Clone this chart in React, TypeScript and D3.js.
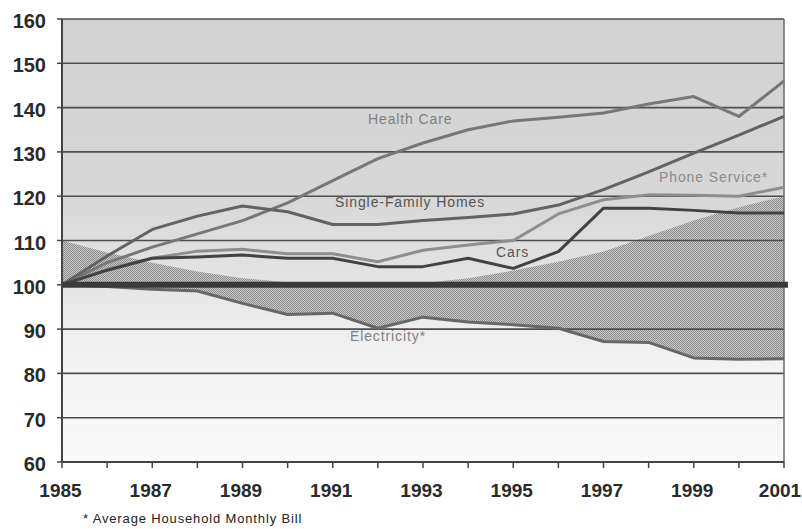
import { useEffect, useRef } from 'react';
import * as d3 from 'd3';

// Index values (1985 = 100)
const years = [1985, 1986, 1987, 1988, 1989, 1990, 1991, 1992, 1993, 1994, 1995, 1996, 1997, 1998, 1999, 2000, 2001];
const healthCare = [100, 105, 108.5, 111.5, 114.5, 118.5, 123.5, 128.5, 132, 135, 137, 137.8, 138.8, 140.8, 142.5, 138, 146];
const singleFamily = [100, 106.5, 112.5, 115.5, 117.8, 116.5, 113.6, 113.6, 114.5, 115.2, 116, 118, 121.5, 125.5, 129.7, 133.8, 138];
const phoneService = [100, 103.5, 106, 107.6, 108, 107, 107, 105.2, 107.8, 109, 110, 116, 119.2, 120.3, 120.2, 120, 122];
const cars = [100, 103.3, 106, 106.3, 106.7, 106, 106, 104.1, 104.1, 106, 103.7, 107.5, 117.3, 117.3, 116.8, 116.2, 116.2];
const electricity = [100, 99.6, 99, 98.6, 95.8, 93.3, 93.6, 90.2, 92.7, 91.6, 91, 90.2, 87.2, 87, 83.5, 83.2, 83.3];
// upper edge of the hatched band (lower edge is electricity)
const bandTop = [110, 107.3, 105, 103, 101.5, 100.6, 100.3, 100.2, 100.4, 101.5, 103.2, 105.2, 107.5, 111, 114.5, 117.5, 120];

const yTicks = [60, 70, 80, 90, 100, 110, 120, 130, 140, 150, 160];
const xLabels = [1985, 1987, 1989, 1991, 1993, 1995, 1997, 1999, 2001];

const seriesNames = ['Health Care', 'Single-Family Homes', 'Phone Service*', 'Cars', 'Electricity*'];
const seriesValues = [healthCare, singleFamily, phoneService, cars, electricity];
const seriesColors = ['#777777', '#626262', '#8e8e8e', '#424242', '#676767'];
// label anchor in data units (year, value)
const labelYears = [1991.78, 1991.05, 1998.23, 1994.62, 1991.38];
const labelValues = [136.2, 117.6, 123.2, 106.3, 87.3];
const labelColors = ['#808080', '#555555', '#8a8a8a', '#555555', '#808080'];

function App() {
  const ref = useRef(null);
  const width = 802;
  const height = 529;

  useEffect(() => {
    const svg = d3.select(ref.current);
    svg.selectAll('*').remove();

    const x = d3.scaleLinear().domain([1985, 2001]).range([62, 784]);
    const y = d3.scaleLinear().domain([60, 160]).range([462, 19]);
    const font = 'Liberation Sans, Arial, Helvetica, sans-serif';

    const defs = svg.append('defs');
    const grad = defs.append('linearGradient')
      .attr('id', 'bg').attr('x1', 0).attr('y1', 0).attr('x2', 0).attr('y2', 1);
    [[0, '#d2d2d2'], [0.4, '#d7d7d7'], [0.6, '#e5e5e5'], [0.7, '#eeeeee'], [0.82, '#f5f5f5'], [1, '#f9f9f9']]
      .forEach(([o, c]) => grad.append('stop').attr('offset', o as number).attr('stop-color', c as string));

    const pat = defs.append('pattern')
      .attr('id', 'hatch').attr('patternUnits', 'userSpaceOnUse')
      .attr('width', 2).attr('height', 2);
    pat.append('rect').attr('width', 2).attr('height', 2).attr('fill', '#c9c9c9');
    pat.append('rect').attr('width', 1).attr('height', 1).attr('fill', '#8c8c8c');
    pat.append('rect').attr('x', 1).attr('y', 1).attr('width', 1).attr('height', 1).attr('fill', '#8c8c8c');

    // plot background
    svg.append('rect')
      .attr('x', x(1985)).attr('y', y(160))
      .attr('width', x(2001) - x(1985)).attr('height', y(60) - y(160))
      .attr('fill', 'url(#bg)');

    // hatched band
    const area = d3.area<number>()
      .x((_, i) => x(years[i]))
      .y0((_, i) => y(electricity[i]))
      .y1((d) => y(d));
    svg.append('path').datum(bandTop).attr('d', area as any).attr('fill', 'url(#hatch)');

    // gridlines
    svg.append('g').selectAll('line')
      .data(yTicks.filter((t) => t !== 60 && t !== 100))
      .enter().append('line')
      .attr('x1', x(1985)).attr('x2', x(2001))
      .attr('y1', (d) => y(d)).attr('y2', (d) => y(d))
      .attr('stroke', '#4e4e4e').attr('stroke-width', 1.6);

    // right border
    svg.append('line')
      .attr('x1', x(2001)).attr('x2', x(2001))
      .attr('y1', y(160)).attr('y2', y(60))
      .attr('stroke', '#6a6a6a').attr('stroke-width', 1.5);

    // series
    const line = d3.line<number>().x((_, i) => x(years[i])).y((d) => y(d));
    seriesValues.forEach((vals, i) => {
      svg.append('path')
        .datum(vals)
        .attr('d', line as any)
        .attr('fill', 'none')
        .attr('stroke', seriesColors[i])
        .attr('stroke-width', 3)
        .attr('stroke-linejoin', 'round');
    });

    // thick baseline at 100
    svg.append('line')
      .attr('x1', x(1985)).attr('x2', x(2001) + 4)
      .attr('y1', y(100)).attr('y2', y(100))
      .attr('stroke', '#3a3a3a').attr('stroke-width', 6);

    // axes
    svg.append('line')
      .attr('x1', x(1985)).attr('x2', x(1985))
      .attr('y1', y(160)).attr('y2', y(60))
      .attr('stroke', '#444').attr('stroke-width', 2);
    svg.append('line')
      .attr('x1', x(1985)).attr('x2', x(2001))
      .attr('y1', y(60)).attr('y2', y(60))
      .attr('stroke', '#444').attr('stroke-width', 2);

    svg.append('g').selectAll('line')
      .data(yTicks)
      .enter().append('line')
      .attr('x1', x(1985) - 5).attr('x2', x(1985))
      .attr('y1', (d) => y(d)).attr('y2', (d) => y(d))
      .attr('stroke', '#444').attr('stroke-width', 1.5);

    svg.append('g').selectAll('line')
      .data(years)
      .enter().append('line')
      .attr('x1', (d) => x(d)).attr('x2', (d) => x(d))
      .attr('y1', y(60)).attr('y2', y(60) + 6)
      .attr('stroke', '#444').attr('stroke-width', 1.5);

    // tick labels
    svg.append('g').selectAll('text')
      .data(yTicks)
      .enter().append('text')
      .attr('x', 46)
      .attr('y', (d) => y(d) + 9)
      .attr('text-anchor', 'end')
      .attr('font-family', font)
      .attr('font-weight', 700)
      .attr('font-size', 20)
      .attr('fill', '#2a2a2a')
      .text((d) => d);

    svg.append('g').selectAll('text')
      .data(xLabels)
      .enter().append('text')
      .attr('x', (d) => Math.min(x(d) - 1.5, width - 22))
      .attr('y', 497)
      .attr('text-anchor', 'middle')
      .attr('font-family', font)
      .attr('font-weight', 700)
      .attr('font-size', 19)
      .attr('fill', '#2a2a2a')
      .text((d) => d);

    // series labels
    svg.append('g').selectAll('text')
      .data(seriesNames)
      .enter().append('text')
      .attr('x', (_, i) => x(labelYears[i]))
      .attr('y', (_, i) => y(labelValues[i]))
      .attr('font-family', font)
      .attr('font-size', 14)
      .attr('letter-spacing', 0.9)
      .attr('fill', (_, i) => labelColors[i])
      .text((d) => d);

    // footnote
    svg.append('text')
      .attr('x', 83).attr('y', 523)
      .attr('font-family', font)
      .attr('font-size', 13)
      .attr('letter-spacing', 0.85)
      .attr('fill', '#222')
      .text('* Average Household Monthly Bill');
  }, [ref]);

  return (
    <div style={{ position: 'absolute', left: 0, top: 0 }}>
      <svg width={width} height={height} ref={ref} style={{ display: 'block', background: '#fff' }} />
    </div>
  );
}

export default App;
